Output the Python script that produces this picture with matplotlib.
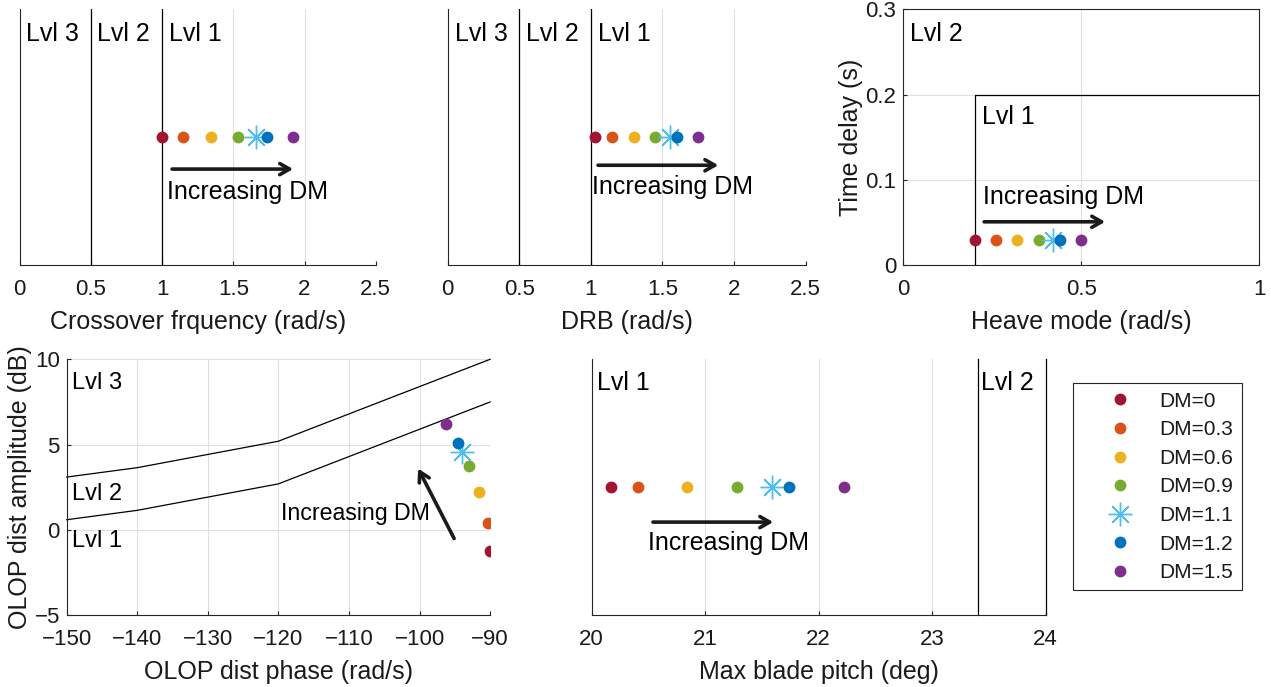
import matplotlib.pyplot as plt
from matplotlib.lines import Line2D
from matplotlib.ticker import FuncFormatter

plt.rcParams['font.family'] = ['Liberation Sans', 'DejaVu Sans']

# Damping multiplier cases
dm_values = [0, 0.3, 0.6, 0.9, 1.1, 1.2, 1.5]
dm_colors = ['#A2142F', '#D95319', '#EDB120', '#77AC30', '#4DBEEE', '#0072BD', '#7E2F8E']
star_dm = 1.1

# Metrics per case
crossover = [1.00, 1.15, 1.34, 1.53, 1.66, 1.74, 1.92]
drb = [1.03, 1.15, 1.30, 1.45, 1.55, 1.60, 1.75]
heave = [0.20, 0.26, 0.32, 0.38, 0.42, 0.44, 0.50]
time_delay = [0.03, 0.03, 0.03, 0.03, 0.03, 0.03, 0.03]
olop_phase = [-90.0, -90.3, -91.6, -93.0, -94.0, -94.6, -96.2]
olop_amp = [-1.25, 0.43, 2.2, 3.73, 4.55, 5.08, 6.23]
blade_pitch = [20.17, 20.41, 20.84, 21.28, 21.59, 21.74, 22.22]

# Level boundaries
bw_bounds = [0.5, 1.0]
heave_lvl1 = 0.2
delay_lvl1 = 0.2
olop_bound_phase = [-150, -140, -120, -90]
olop_lvl3_amp = [3.1, 3.65, 5.2, 10.0]
olop_lvl2_amp = [0.6, 1.15, 2.7, 7.5]
pitch_bounds = [23.4, 24.0]

AX_COLOR = '#262626'
GRID_COLOR = '#e0e0e0'
TICK_FS = 16
LABEL_FS = 18
TEXT_FS = 18

fig = plt.figure(figsize=(12.71, 6.87), dpi=100)

num_fmt = FuncFormatter(lambda v, pos: ('%g' % v).replace('-', '\u2212'))


def style_axes(ax, box=False):
    for side in ['left', 'bottom', 'top', 'right']:
        ax.spines[side].set_color(AX_COLOR)
        ax.spines[side].set_linewidth(0.8)
    if not box:
        ax.spines['top'].set_visible(False)
        ax.spines['right'].set_visible(False)
    ax.tick_params(direction='in', length=3, width=0.8, color=AX_COLOR,
                   labelsize=TICK_FS, labelcolor='#1a1a1a',
                   top=False, right=False)
    ax.tick_params(axis='x', pad=10)
    ax.tick_params(axis='y', pad=5)
    ax.set_axisbelow(True)
    ax.grid(True, color=GRID_COLOR, lw=0.8)
    ax.xaxis.set_major_formatter(num_fmt)
    ax.yaxis.set_major_formatter(num_fmt)


def set_labels(ax, xlabel=None, ylabel=None):
    if xlabel:
        ax.set_xlabel(xlabel, fontsize=LABEL_FS, color='#1a1a1a', labelpad=7)
    if ylabel:
        ax.set_ylabel(ylabel, fontsize=LABEL_FS, color='#1a1a1a', labelpad=2)


def draw_points(ax, xs, ys):
    for x, y, c, dm in zip(xs, ys, dm_colors, dm_values):
        if dm == star_dm:
            ax.plot(x, y, marker=(8, 2, 0), ms=17, mew=1.0, color=c, ls='none', zorder=3)
        else:
            ax.plot(x, y, marker='o', ms=7.5, color=c, mec=c, ls='none', zorder=3)


def arrow(ax, tail, head):
    ax.annotate('', xy=head, xytext=tail,
                arrowprops=dict(arrowstyle='->,head_length=0.7,head_width=0.4',
                                lw=2.6, color='#1a1a1a', shrinkA=0, shrinkB=0))


def strip_panel(ax, xs, bounds, label, xlim, lvl_x, arrow_y, arrow_x, text_x, text_y):
    style_axes(ax)
    ax.set_xlim(xlim)
    ax.set_ylim(0, 1)
    ax.set_yticks([])
    ax.set_xticks([0, 0.5, 1, 1.5, 2, 2.5])
    for b in bounds:
        ax.plot([b, b], [0, 1], color='k', lw=0.9, zorder=2)
    for x, t in zip(lvl_x, ['Lvl 3', 'Lvl 2', 'Lvl 1']):
        ax.text(x, 0.905, t, fontsize=TEXT_FS, va='center', ha='left')
    draw_points(ax, xs, [0.5] * len(xs))
    arrow(ax, (arrow_x[0], arrow_y), (arrow_x[1], arrow_y))
    ax.text(text_x, text_y, 'Increasing DM', fontsize=TEXT_FS, va='center', ha='left')
    set_labels(ax, xlabel=label)


# Crossover frequency
ax1 = fig.add_axes([0.0155, 0.6143, 0.2801, 0.3722])
strip_panel(ax1, crossover, bw_bounds, 'Crossover frquency (rad/s)', (0, 2.5),
            [0.045, 0.545, 1.05], 0.375, (1.07, 1.92), 1.035, 0.286)

# DRB
ax2 = fig.add_axes([0.3522, 0.6143, 0.2817, 0.3722])
strip_panel(ax2, drb, bw_bounds, 'DRB (rad/s)', (0, 2.5),
            [0.05, 0.55, 1.05], 0.39, (1.05, 1.89), 1.01, 0.306)

# Heave mode vs time delay
ax3 = fig.add_axes([0.7107, 0.6138, 0.2801, 0.3726])
style_axes(ax3, box=True)
ax3.set_xlim(0, 1)
ax3.set_ylim(0, 0.3)
ax3.set_xticks([0, 0.5, 1])
ax3.set_yticks([0, 0.1, 0.2, 0.3])
ax3.plot([heave_lvl1, heave_lvl1, 1], [0, delay_lvl1, delay_lvl1], color='k', lw=0.9, zorder=2)
ax3.text(0.02, 0.271, 'Lvl 2', fontsize=TEXT_FS, va='center', ha='left')
ax3.text(0.22, 0.174, 'Lvl 1', fontsize=TEXT_FS, va='center', ha='left')
draw_points(ax3, heave, time_delay)
arrow(ax3, (0.227, 0.051), (0.567, 0.051))
ax3.text(0.224, 0.080, 'Increasing DM', fontsize=TEXT_FS, va='center', ha='left')
set_labels(ax3, 'Heave mode (rad/s)', 'Time delay (s)')

# OLOP disturbance
ax4 = fig.add_axes([0.0525, 0.1044, 0.3331, 0.3726])
style_axes(ax4)
ax4.set_xlim(-150, -90)
ax4.set_ylim(-5, 10)
ax4.set_xticks(range(-150, -89, 10))
ax4.set_yticks([-5, 0, 5, 10])
ax4.plot(olop_bound_phase, olop_lvl3_amp, color='k', lw=0.9, zorder=2, clip_on=False)
ax4.plot(olop_bound_phase, olop_lvl2_amp, color='k', lw=0.9, zorder=2, clip_on=False)
for y, t in zip([8.6, 2.1, -0.63], ['Lvl 3', 'Lvl 2', 'Lvl 1']):
    ax4.text(-149.2, y, t, fontsize=17, va='center', ha='left')
draw_points(ax4, olop_phase, olop_amp)
arrow(ax4, (-95.1, -0.5), (-100.2, 3.6))
ax4.text(-119.6, 0.98, 'Increasing DM', fontsize=16.7, va='center', ha='left')
set_labels(ax4, 'OLOP dist phase (rad/s)', 'OLOP dist amplitude (dB)')

# Max blade pitch
ax5 = fig.add_axes([0.4655, 0.1044, 0.3572, 0.3726])
style_axes(ax5)
ax5.set_xlim(20, 24)
ax5.set_ylim(0, 1)
ax5.set_yticks([])
ax5.set_xticks([20, 21, 22, 23, 24])
for b in pitch_bounds:
    ax5.plot([b, b], [0, 1], color='k', lw=0.9, zorder=2, clip_on=False)
ax5.text(20.05, 0.906, 'Lvl 1', fontsize=TEXT_FS, va='center', ha='left')
ax5.text(23.43, 0.906, 'Lvl 2', fontsize=TEXT_FS, va='center', ha='left')
draw_points(ax5, blade_pitch, [0.5] * len(blade_pitch))
arrow(ax5, (20.54, 0.364), (21.60, 0.364))
ax5.text(20.5, 0.281, 'Increasing DM', fontsize=TEXT_FS, va='center', ha='left')
set_labels(ax5, 'Max blade pitch (deg)')

# Shared legend
handles = []
for c, dm in zip(dm_colors, dm_values):
    if dm == star_dm:
        h = Line2D([], [], marker=(8, 2, 0), ms=17, mew=1.0, color=c, ls='none')
    else:
        h = Line2D([], [], marker='o', ms=7.5, color=c, ls='none')
    handles.append(h)
labels = ['DM=%g' % dm for dm in dm_values]
leg = fig.legend(handles, labels, loc='upper left',
                 bbox_to_anchor=(1073 / 1271, 1 - 383.3 / 687),
                 borderaxespad=0, fontsize=15, frameon=True, fancybox=False,
                 framealpha=1, edgecolor=AX_COLOR, handlelength=3.7,
                 handletextpad=0.05, labelspacing=0.46, borderpad=0.4)
leg.get_frame().set_linewidth(0.8)
for t in leg.get_texts():
    t.set_color('#1a1a1a')

fig.savefig('out.png', dpi=100)
